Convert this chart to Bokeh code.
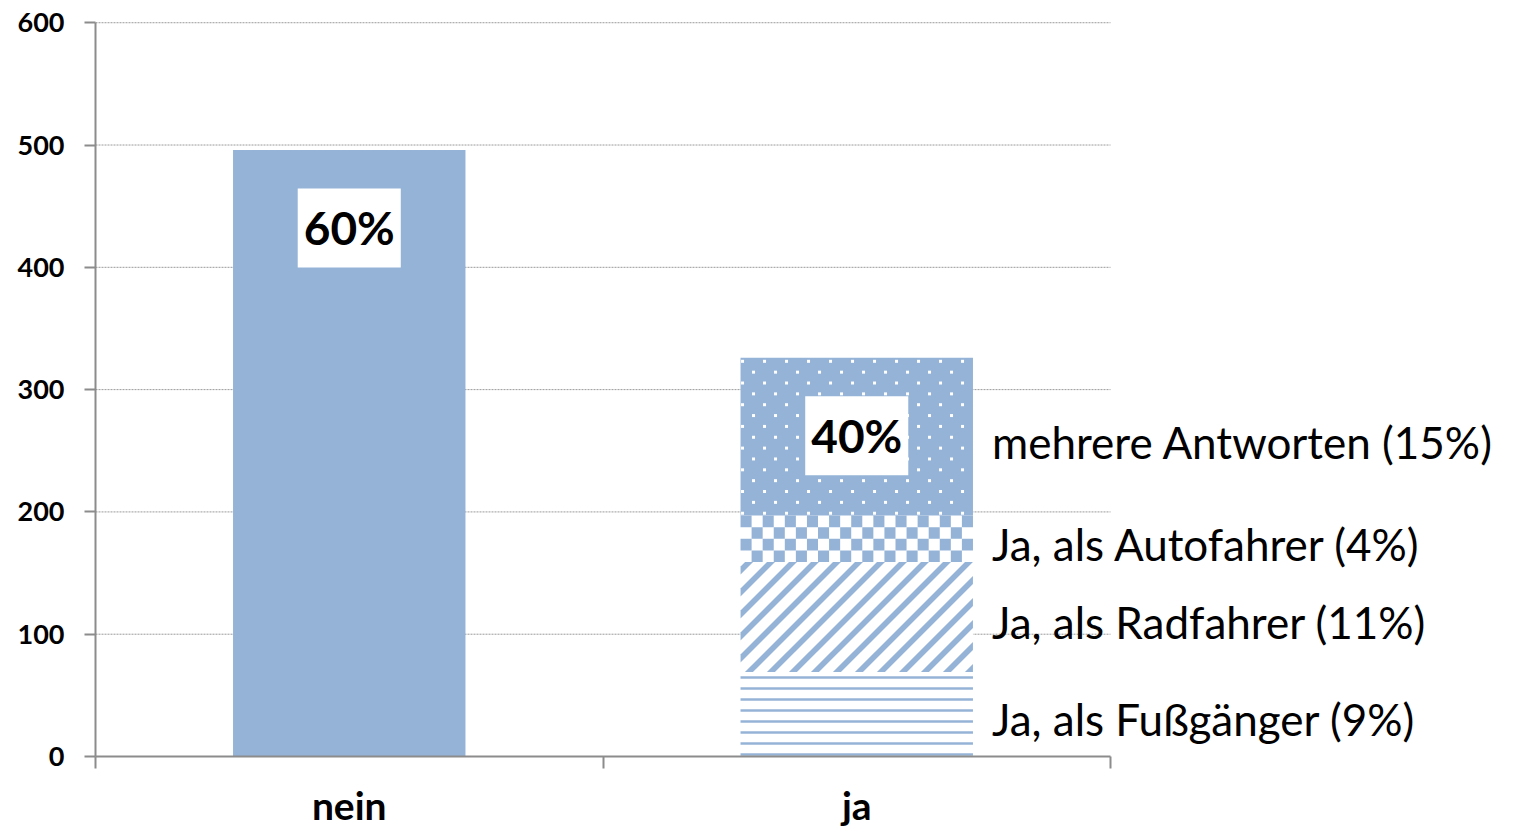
import numpy as np
from bokeh.plotting import figure
from bokeh.models import Range1d, FixedTicker, Label
from bokeh.embed import file_html
from bokeh.resources import INLINE

# ---- data ----
categories = ["nein", "ja"]
nein_value = 496
bar_percent = ["60%", "40%"]
ja_segment_labels = ["Ja, als Fußgänger (9%)", "Ja, als Radfahrer (11%)",
                     "Ja, als Autofahrer (4%)", "mehrere Antworten (15%)"]
ja_segment_values = [69, 90, 38, 129]
y_ticks = [0, 100, 200, 300, 400, 500, 600]

BLUE = "#95B3D7"
AXIS = "#8c8c8c"
FONT = "Lato"

W, H = 1517, 830
LEFT, TOP, BOTTOM = 95, 21, 74
Y_MAX = 601
CAT_PX = 507.5                      # px per category slot
PX_Y = (H - TOP - BOTTOM) / Y_MAX   # px per y unit
n = len(categories)
x_end = (W - LEFT) / CAT_PX

p = figure(width=W, height=H, output_backend="svg", toolbar_location=None,
           x_range=Range1d(0, x_end), y_range=Range1d(0, Y_MAX),
           min_border_left=LEFT, min_border_right=0, min_border_top=TOP,
           min_border_bottom=BOTTOM)
p.outline_line_color = None
p.background_fill_color = "white"
p.xgrid.visible = False
p.ygrid.visible = False

# grid lines limited to the category area
grid_y = [t for t in y_ticks if t > 0]
p.segment(x0=[0] * len(grid_y), x1=[n] * len(grid_y), y0=grid_y, y1=grid_y,
          line_color="#9a9a9a", line_dash="2 1", line_width=1)

cat_x = [i + 0.5 for i in range(n)]
BAR_W = 0.458

# nein bar
p.vbar(x=[cat_x[0]], top=[nein_value], bottom=[0], width=BAR_W,
       fill_color=BLUE, line_color=None)

# ja stacked segments
bottoms = list(np.cumsum([0] + ja_segment_values[:-1]))
tops = [b + v for b, v in zip(bottoms, ja_segment_values)]
ja_total = tops[-1]
jx = cat_x[1]
xl, xr = jx - BAR_W / 2, jx + BAR_W / 2
bar_px = BAR_W * CAT_PX

# white/blue base of every segment
p.vbar(x=[jx] * 4, bottom=bottoms, top=tops, width=BAR_W,
       fill_color=["white", "white", "white", BLUE], line_color=None)

# --- Fußgänger: horizontal lines
p.vbar(x=[jx], bottom=[bottoms[0]], top=[tops[0]], width=BAR_W,
       fill_color="white", line_color=None,
       hatch_pattern="horizontal_line", hatch_color=BLUE, hatch_scale=11, hatch_weight=2.5)

# --- Radfahrer: 45° stripes, clipped to the segment
def clip_poly(pts, xmin, xmax, ymin, ymax):
    def clip(pts, inside, inter):
        out = []
        for i in range(len(pts)):
            cur, prev = pts[i], pts[i - 1]
            if inside(cur):
                if not inside(prev):
                    out.append(inter(prev, cur))
                out.append(cur)
            elif inside(prev):
                out.append(inter(prev, cur))
        return out
    def ix(a, b, v):
        t = (v - a[0]) / (b[0] - a[0]); return (v, a[1] + t * (b[1] - a[1]))
    def iy(a, b, v):
        t = (v - a[1]) / (b[1] - a[1]); return (a[0] + t * (b[0] - a[0]), v)
    for inside, inter in [(lambda q: q[0] >= xmin, lambda a, b: ix(a, b, xmin)),
                          (lambda q: q[0] <= xmax, lambda a, b: ix(a, b, xmax)),
                          (lambda q: q[1] >= ymin, lambda a, b: iy(a, b, ymin)),
                          (lambda q: q[1] <= ymax, lambda a, b: iy(a, b, ymax))]:
        if not pts:
            break
        pts = clip(pts, inside, inter)
    return pts

seg_h_px = ja_segment_values[1] * PX_Y
PERIOD, THICK, L = 22.0, 8.0, 2000.0
sx, sy = [], []
c = -bar_px
while c < seg_h_px + PERIOD:
    band = [(-L, -L + c), (L, L + c), (L, L + c + THICK), (-L, -L + c + THICK)]
    poly = clip_poly(band, 0, bar_px, 0, seg_h_px)
    if len(poly) >= 3:
        sx.append([xl + q[0] / CAT_PX for q in poly])
        sy.append([bottoms[1] + q[1] / PX_Y for q in poly])
    c += PERIOD
p.patches(sx, sy, fill_color=BLUE, line_color=None)

# --- Autofahrer: checkerboard
CELL = 11.0
ncols = int(round(bar_px / CELL))
nrows = int(round(ja_segment_values[2] * PX_Y / CELL))
cw = BAR_W / ncols
ch = ja_segment_values[2] / nrows
ql, qr, qb, qt = [], [], [], []
for r in range(nrows):
    for k in range(ncols):
        if (r + k) % 2 == 0:
            ql.append(xl + k * cw); qr.append(xl + (k + 1) * cw)
            qt.append(tops[2] - r * ch); qb.append(tops[2] - (r + 1) * ch)
p.quad(left=ql, right=qr, bottom=qb, top=qt, fill_color=BLUE, line_color=None)

# --- mehrere: staggered white dots
dx, dy = [], []
seg_h_px = ja_segment_values[3] * PX_Y
r = 0
while 3.5 + 10.85 * r < seg_h_px - 2:
    ypx = 3.5 + 10.85 * r
    xpx = 2 + 11 * (r % 2)
    while xpx < bar_px - 1:
        dx.append(xl + xpx / CAT_PX)
        dy.append(tops[3] - ypx / PX_Y)
        xpx += 22
    r += 1
p.scatter(dx, dy, marker="square", size=3, fill_color="white", line_color=None)

# percent labels in white boxes
for cx, top, txt in zip(cat_x, [nein_value, ja_total], bar_percent):
    p.add_layout(Label(x=cx, y=top, y_offset=-78, text=txt,
                       text_align="center", text_baseline="middle",
                       text_font=FONT, text_font_style="bold", text_font_size="46px",
                       text_color="black", background_fill_color="white",
                       padding=dict(left=6, right=6, top=12, bottom=12)))

# segment labels to the right
for b, t, txt in zip(bottoms, tops, ja_segment_labels):
    p.add_layout(Label(x=xr, x_offset=19, y=(b + t) / 2, y_offset=-5,
                       text=txt, text_align="left", text_baseline="middle",
                       text_font=FONT, text_font_size="44px", text_color="black"))

# axes
ya = p.yaxis[0]
ya.ticker = FixedTicker(ticks=y_ticks)
ya.bounds = (0, 600)
ya.axis_line_color = AXIS
ya.axis_line_width = 2
ya.major_tick_line_color = AXIS
ya.major_tick_line_width = 2
ya.major_tick_out = 11
ya.major_tick_in = 0
ya.minor_tick_line_color = None
ya.major_label_standoff = 20
ya.major_label_text_font = FONT
ya.major_label_text_font_style = "bold"
ya.major_label_text_font_size = "27px"
ya.major_label_text_color = "black"

xa = p.xaxis[0]
xa.bounds = (0, n)
xa.ticker = FixedTicker(ticks=cat_x, minor_ticks=list(range(n + 1)))
xa.major_label_overrides = {cx: c for cx, c in zip(cat_x, categories)}
xa.axis_line_color = AXIS
xa.axis_line_width = 2
xa.major_tick_line_color = None
xa.major_tick_out = 0
xa.major_tick_in = 0
xa.minor_tick_line_color = AXIS
xa.minor_tick_line_width = 2
xa.minor_tick_out = 12
xa.minor_tick_in = 0
xa.major_label_standoff = 13
xa.major_label_text_font = FONT
xa.major_label_text_font_style = "bold"
xa.major_label_text_font_size = "39px"
xa.major_label_text_color = "black"

open("out.html", "w").write(file_html(p, INLINE))
